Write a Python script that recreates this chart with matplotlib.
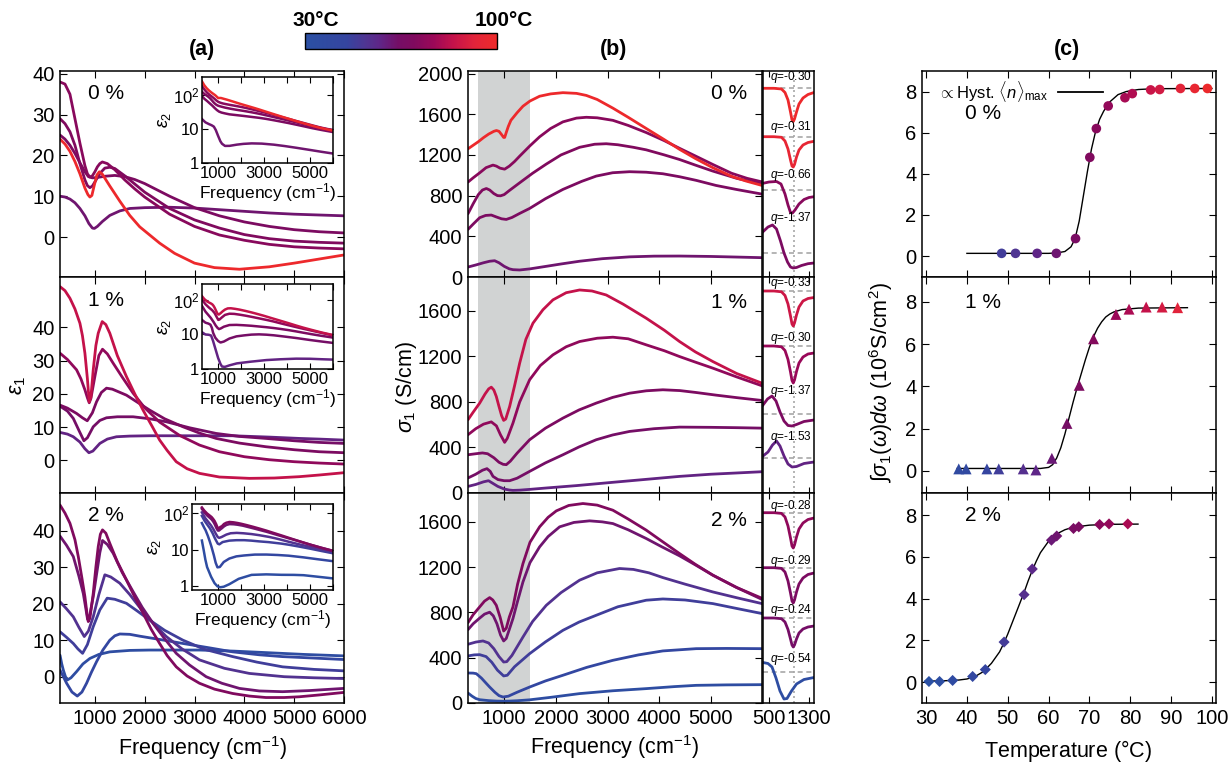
import matplotlib
matplotlib.use('Agg')
import matplotlib.pyplot as plt
import numpy as np
from matplotlib.colors import LinearSegmentedColormap, Normalize
from matplotlib.cm import ScalarMappable

plt.rcParams['font.family'] = ['Liberation Sans', 'DejaVu Sans']
plt.rcParams['mathtext.fontset'] = 'custom'
plt.rcParams['mathtext.rm'] = 'Liberation Sans'
plt.rcParams['mathtext.it'] = 'Liberation Sans:italic'
plt.rcParams['mathtext.bf'] = 'Liberation Sans:bold'

# ======================= DATA =======================
T_LOW, T_HIGH = 30, 100

# ---- panel (a): eps1 ----
eps1_0_temps = [99, 72, 70, 68, 62]
eps1_0_freq = [
    [300, 400, 500, 600, 700, 800, 860, 900, 940, 990, 1040, 1090, 1150, 1300, 1500, 1700, 1900, 2100, 2300, 2600, 3000, 3400, 3900, 4500, 5000, 5500, 6000],
    [300, 400, 500, 600, 700, 800, 850, 900, 950, 1000, 1050, 1100, 1150, 1250, 1400, 1600, 1800, 2000, 2500, 3000, 3500, 4000, 4500, 5000, 5500, 6000],
    [300, 400, 500, 600, 700, 800, 850, 900, 950, 1000, 1100, 1200, 1300, 1400, 1600, 1800, 2000, 2500, 3000, 3500, 4000, 4500, 5000, 5500, 6000],
    [300, 400, 500, 600, 700, 800, 870, 950, 1050, 1200, 1400, 1600, 1800, 2000, 2500, 3000, 3500, 4000, 4500, 5000, 5500, 6000],
    [300, 400, 500, 600, 700, 800, 880, 950, 990, 1050, 1150, 1300, 1500, 1700, 2000, 2500, 3000, 3500, 4000, 4500, 5000, 5500, 6000],
]
eps1_0_vals = [
    [24, 22.8, 21, 18.5, 15.5, 12, 10.4, 9.8, 10.2, 12.8, 15.2, 16, 15.4, 12.5, 8.8, 5.3, 2.5, 0.5, -1.5, -4, -6.4, -7.5, -7.9, -7.3, -6.4, -5.4, -4.4],
    [38, 37.5, 35, 29, 23, 17.5, 15.5, 14.7, 15, 16, 17.2, 18, 18.4, 18, 16.5, 14, 11.8, 9.8, 5.6, 2.6, 0.5, -0.8, -1.8, -2.4, -2.7, -2.9],
    [29, 27.8, 25.8, 22.5, 18, 14, 12.6, 12.1, 12.5, 13.5, 15.6, 16.9, 17.1, 16.8, 15, 13, 11, 7, 4.2, 2.2, 0.6, -0.4, -1, -1.3, -1.5],
    [25, 24, 22.5, 20.5, 18.2, 16, 14.8, 14.5, 14.6, 14.9, 15.1, 14.8, 14.1, 13.1, 10, 7.2, 5.2, 3.7, 2.6, 1.8, 1.3, 1.0],
    [10, 9.8, 9.3, 8.4, 7, 5.2, 3.3, 2.2, 2.1, 2.6, 3.8, 5.3, 6.4, 7, 7.2, 7.3, 7.1, 6.7, 6.3, 5.9, 5.6, 5.4, 5.2],
]

eps1_1_temps = [84, 74, 68, 64, 58]
eps1_1_freq = [
    [300, 400, 500, 600, 700, 750, 800, 850, 887, 920, 967, 1020, 1067, 1147, 1220, 1300, 1450, 1633, 1800, 1967, 2150, 2300, 2450, 2633, 2850, 3100, 3500, 4100, 4600, 5100, 5500, 6000],
    [300, 450, 633, 720, 800, 850, 887, 920, 1000, 1080, 1153, 1250, 1367, 1550, 1767, 2000, 2300, 2700, 3100, 3500, 4000, 4500, 5000, 5500, 6000],
    [300, 450, 633, 750, 847, 950, 1033, 1130, 1233, 1350, 1633, 1850, 2100, 2400, 2767, 3100, 3433, 3900, 4433, 5000, 5500, 6000],
    [300, 450, 567, 680, 780, 850, 967, 1100, 1233, 1450, 1767, 2100, 2433, 2900, 3433, 3900, 4433, 5000, 5500, 6000],
    [300, 450, 567, 700, 800, 880, 960, 1100, 1250, 1433, 1700, 2100, 3000, 3767, 4500, 5100, 5500, 6000],
]
eps1_1_vals = [
    [52.2, 51, 48.7, 45.5, 41.2, 37.5, 32.2, 24.5, 17.6, 19, 27.2, 34.5, 38.2, 41.7, 40.8, 38.2, 31.5, 25.2, 20, 15.1, 10.2, 6.1, 3, -0.4, -2.5, -3.9, -5, -5.4, -5.3, -4.9, -4.4, -3.7],
    [32.2, 30.3, 27.2, 24.5, 21.2, 18.8, 17.3, 18.6, 25.2, 31.5, 33.4, 32, 29.2, 25, 20.2, 15.8, 11.5, 7.5, 4.6, 2.6, 1.1, 0.2, -0.4, -0.8, -1.1],
    [16.6, 15.7, 14.1, 12.8, 11.9, 14.3, 17.6, 20.4, 21.7, 21.4, 19.6, 17.5, 15.1, 12.5, 10.1, 8.2, 6.6, 5.2, 4.1, 3.2, 2.6, 2.3],
    [16.3, 14.8, 12.6, 9, 5.9, 6.8, 10.1, 12, 12.8, 13.1, 13.1, 12.5, 11.6, 9.8, 8.1, 7.2, 6.6, 5.9, 5.4, 5.1],
    [8.4, 7.9, 7.1, 5.5, 3.5, 2.3, 2.8, 5.1, 6.4, 7.1, 7.3, 7.4, 7.4, 7.4, 7, 6.6, 6.4, 6.1],
]

eps1_2_temps = [70, 62, 53, 48, 42, 34]
eps1_2_freq = [
    [300, 400, 500, 600, 667, 740, 800, 840, 867, 900, 967, 1020, 1067, 1110, 1153, 1220, 1300, 1450, 1633, 1800, 1967, 2130, 2300, 2450, 2633, 2850, 3100, 3400, 3767, 4100, 4433, 4800, 5100, 5500, 6000],
    [300, 430, 567, 680, 767, 820, 853, 900, 967, 1050, 1100, 1153, 1250, 1367, 1550, 1767, 1950, 2167, 2400, 2633, 2900, 3233, 3550, 3900, 4300, 4767, 5300, 6000],
    [300, 430, 567, 680, 787, 870, 967, 1080, 1200, 1320, 1500, 1700, 1967, 2200, 2433, 2750, 3100, 3600, 4100, 4800, 5400, 6000],
    [300, 430, 567, 660, 753, 850, 967, 1100, 1247, 1400, 1633, 1850, 2100, 2400, 2767, 3200, 3767, 4250, 4767, 5400, 6000],
    [300, 360, 433, 540, 647, 740, 833, 930, 1033, 1160, 1300, 1400, 1500, 1700, 1900, 2300, 2767, 3300, 3767, 4300, 4767, 5400, 6000],
    [300, 335, 367, 410, 447, 520, 633, 760, 900, 1080, 1300, 1700, 2100, 3100, 3800, 4433, 5200, 6000],
]
eps1_2_vals = [
    [47, 44.8, 42, 37.5, 32.9, 27, 21.9, 17.5, 15.1, 16, 22.8, 30, 35.6, 39, 40.2, 39.3, 36.5, 31.5, 26.5, 21.8, 17.4, 13, 9.1, 5.8, 2.7, 0.2, -1.8, -3.4, -4.6, -5.3, -5.7, -5.7, -5.5, -5, -4.3],
    [38.5, 36, 32.9, 27.5, 22.8, 18.5, 15.7, 17, 21.9, 29.5, 34, 37.3, 36.2, 33.8, 28.5, 23.3, 19, 14.6, 10.4, 6.4, 3.2, 0, -1.8, -3.2, -3.9, -4.1, -3.8, -3.2],
    [20.5, 18.6, 16.4, 13.5, 11, 12.5, 16.4, 22.5, 27.9, 27.3, 25.6, 22.5, 17.8, 14.2, 11, 7.6, 4.6, 2.3, 0.9, 0, -0.3, -0.5],
    [12.3, 10.8, 9.1, 7.6, 6.4, 8.8, 13.7, 18.3, 21.5, 21.2, 20.1, 18, 15.5, 12.7, 10, 7.5, 5.5, 4, 2.7, 2, 1.6],
    [1.8, 0.2, -1.8, -4.2, -5.3, -4.2, -1.8, 1.2, 4.1, 7.3, 10, 11.2, 11.7, 11.6, 11.1, 10.2, 9.1, 7.9, 6.8, 6, 5.5, 5.1, 4.7],
    [5.9, 3.5, 1.8, 0, -0.9, -0.3, 1.4, 3.5, 5, 6.1, 6.8, 7.2, 7.3, 7.3, 7, 6.6, 6.1, 5.7],
]

# ---- panel (b): sigma1 (S/cm); same samples/temperatures as eps1 rows ----
sig_0_freq = [
    [300, 400, 500, 600, 700, 800, 850, 900, 950, 990, 1010, 1040, 1080, 1130, 1250, 1364, 1500, 1686, 1900, 2137, 2400, 2589, 2800, 3104, 3400, 3749, 4100, 4394, 4700, 5039, 5400, 5683, 5990],
    [300, 400, 526, 650, 783, 850, 920, 1009, 1100, 1200, 1300, 1500, 1686, 1900, 2137, 2400, 2589, 2800, 3104, 3400, 3749, 4100, 4394, 4700, 5039, 5400, 5700, 5990],
    [300, 400, 500, 580, 655, 720, 800, 870, 930, 1000, 1100, 1300, 1550, 1815, 2100, 2460, 2750, 2975, 3200, 3500, 3749, 4100, 4394, 4700, 5039, 5500, 5990],
    [300, 400, 526, 640, 751, 850, 950, 1041, 1150, 1300, 1493, 1800, 2137, 2500, 2782, 3100, 3427, 3750, 4071, 4400, 4716, 5100, 5500, 5990],
    [300, 450, 600, 720, 816, 900, 1000, 1100, 1170, 1300, 1500, 1815, 2100, 2460, 2900, 3427, 3900, 4394, 5000, 5500, 5990],
]
sig_0_vals = [
    [1260, 1295, 1330, 1370, 1405, 1432, 1440, 1432, 1400, 1372, 1372, 1420, 1480, 1540, 1615, 1679, 1730, 1777, 1800, 1812, 1805, 1785, 1745, 1660, 1570, 1460, 1350, 1255, 1165, 1074, 990, 943, 900],
    [933, 975, 1024, 1075, 1100, 1090, 1070, 1060, 1090, 1135, 1188, 1290, 1378, 1460, 1525, 1562, 1570, 1565, 1540, 1490, 1420, 1340, 1265, 1190, 1106, 1020, 970, 935],
    [622, 720, 810, 855, 870, 855, 820, 800, 798, 810, 850, 926, 1020, 1110, 1200, 1275, 1305, 1310, 1300, 1275, 1250, 1200, 1155, 1100, 1041, 970, 915],
    [468, 520, 583, 605, 609, 590, 572, 566, 585, 625, 674, 770, 861, 940, 992, 1025, 1035, 1030, 1015, 985, 950, 900, 860, 815],
    [98, 118, 140, 155, 160, 140, 105, 80, 72, 69, 80, 105, 128, 155, 180, 198, 205, 206, 202, 196, 190],
]

sig_1_freq = [
    [300, 400, 526, 630, 700, 751, 800, 848, 900, 950, 990, 1030, 1106, 1200, 1300, 1420, 1557, 1750, 1944, 2200, 2460, 2700, 2975, 3300, 3749, 4100, 4394, 4700, 5039, 5500, 5990],
    [300, 450, 600, 751, 850, 930, 1009, 1060, 1170, 1300, 1493, 1700, 1944, 2200, 2460, 2800, 3104, 3400, 3749, 4100, 4394, 4700, 5039, 5500, 5990],
    [300, 450, 580, 680, 800, 900, 980, 1041, 1120, 1250, 1493, 1800, 2137, 2450, 2782, 3100, 3427, 3750, 4071, 4400, 4716, 5100, 5500, 5990],
    [300, 450, 580, 667, 730, 784, 880, 1000, 1106, 1250, 1493, 1800, 2137, 2450, 2782, 3100, 3427, 3900, 4394, 5000, 5500, 5990],
    [300, 450, 600, 697, 780, 877, 1000, 1100, 1170, 1300, 1500, 1815, 2400, 3104, 3700, 4394, 5000, 5500, 5990],
]
sig_1_vals = [
    [644, 710, 790, 870, 915, 930, 905, 848, 760, 680, 638, 650, 760, 940, 1141, 1350, 1492, 1610, 1697, 1760, 1784, 1775, 1740, 1660, 1536, 1430, 1331, 1240, 1155, 1050, 965],
    [512, 565, 605, 625, 590, 510, 445, 480, 614, 800, 995, 1120, 1214, 1285, 1331, 1360, 1369, 1355, 1302, 1250, 1199, 1150, 1097, 1020, 942],
    [336, 345, 352, 345, 310, 270, 252, 249, 280, 350, 468, 570, 658, 730, 790, 840, 877, 898, 907, 900, 883, 860, 838, 813],
    [132, 165, 200, 214, 190, 146, 118, 108, 108, 130, 190, 265, 336, 405, 468, 510, 541, 565, 579, 577, 574, 570],
    [58, 75, 98, 108, 85, 58, 35, 26, 23, 25, 32, 44, 65, 94, 118, 146, 165, 176, 187],
]

sig_2_freq = [
    [300, 400, 526, 620, 719, 780, 848, 920, 990, 1040, 1100, 1170, 1260, 1364, 1500, 1686, 1850, 2009, 2250, 2524, 2800, 3104, 3400, 3749, 4050, 4394, 4700, 5039, 5500, 5990],
    [300, 400, 526, 620, 719, 790, 860, 930, 990, 1040, 1100, 1170, 1260, 1364, 1500, 1686, 1850, 2073, 2350, 2653, 2900, 3104, 3400, 3749, 4050, 4394, 4700, 5039, 5500, 5990],
    [300, 450, 590, 700, 800, 900, 990, 1050, 1150, 1364, 1550, 1815, 2100, 2460, 2800, 3233, 3500, 3800, 4071, 4500, 5039, 5500, 5990],
    [300, 420, 526, 650, 760, 870, 990, 1060, 1200, 1493, 1800, 2137, 2450, 2782, 3200, 3749, 4071, 4500, 5039, 5500, 5990],
    [300, 400, 461, 560, 640, 719, 820, 900, 977, 1080, 1250, 1493, 1800, 2137, 2600, 3104, 3600, 4071, 4716, 5300, 5990],
    [300, 380, 450, 526, 700, 850, 977, 1100, 1250, 1493, 1900, 2460, 3100, 3749, 4300, 4716, 5300, 5990],
]
sig_2_vals = [
    [710, 780, 849, 900, 931, 910, 863, 760, 636, 660, 760, 849, 1050, 1232, 1420, 1556, 1640, 1697, 1745, 1762, 1748, 1703, 1625, 1527, 1430, 1320, 1225, 1129, 1020, 925],
    [648, 700, 750, 785, 802, 770, 700, 600, 548, 570, 650, 746, 900, 1070, 1240, 1379, 1470, 1556, 1595, 1609, 1600, 1585, 1530, 1453, 1380, 1300, 1220, 1129, 1020, 915],
    [519, 538, 548, 530, 480, 410, 362, 365, 420, 583, 720, 863, 975, 1085, 1150, 1188, 1180, 1150, 1108, 1050, 981, 930, 878],
    [416, 425, 427, 410, 360, 290, 239, 245, 320, 436, 540, 642, 715, 775, 850, 908, 919, 910, 878, 835, 790],
    [265, 264, 259, 220, 180, 141, 95, 65, 53, 60, 95, 141, 195, 245, 315, 377, 425, 460, 480, 482, 480],
    [88, 60, 40, 29, 21, 17, 16, 17, 20, 28, 50, 83, 108, 127, 145, 156, 160, 162],
]

# ---- panel (b) small side insets: normalised Fano dips (arbitrary offset units) ----
fano_dip_freq = [380, 600, 750, 820, 880, 930, 960, 985, 1010, 1050, 1100, 1180, 1280, 1400]
fano_0_temps = [99, 95, 72, 68]
fano_0_q = ['-0.30', '-0.31', '-0.66', '-1.37']
fano_0_freq = [fano_dip_freq, fano_dip_freq,
               [380, 500, 650, 740, 820, 880, 930, 970, 1020, 1100, 1200, 1300, 1400],
               [380, 480, 570, 650, 730, 800, 870, 930, 980, 1050, 1150, 1280, 1400]]
fano_0_vals = [
    [88.3, 88.3, 89, 92.5, 100, 112, 120, 121.5, 119, 112, 104, 98, 94.5, 92.5],
    [136.7, 136.7, 137.3, 141, 149, 160, 166, 167, 164.5, 157, 150, 145, 142.5, 141.3],
    [183.3, 182, 181.5, 184, 194, 205, 212.5, 213, 210, 204, 199.5, 197.5, 196.7],
    [231.7, 227, 225, 229, 241, 253, 262, 267, 268, 267.5, 265.5, 263.7, 263],
]
fano_0_base = [88.3, 136.7, 190, 253]
fano_0_labely = [77.3, 126.7, 175, 218]

fano_1_temps = [86, 76, 68, 58]
fano_1_q = ['-0.33', '-0.30', '-1.37', '-1.53']
fano_1_freq = [fano_dip_freq, fano_dip_freq,
               [380, 470, 560, 640, 720, 800, 880, 960, 1050, 1200, 1400],
               [380, 480, 570, 650, 720, 800, 880, 960, 1050, 1200, 1400]]
fano_1_vals = [
    [291, 291, 291.8, 295.5, 304, 316, 324, 326, 323, 315, 307, 301, 298.5, 297.5],
    [346, 346, 346.8, 350.5, 359.5, 372, 380.5, 383, 380, 371.5, 363, 357, 354, 353],
    [405, 399, 396, 401, 412, 421, 425.5, 426, 424.5, 421.5, 420],
    [456, 452, 445, 441, 446, 456, 464, 467, 466.5, 463.5, 462],
]
fano_1_base = [291, 346, 414, 458]
fano_1_labely = [283, 338, 391, 437]

fano_2_temps = [74, 68, 64, 34]
fano_2_q = ['-0.28', '-0.29', '-0.24', '-0.54']
fano_2_freq = [fano_dip_freq, fano_dip_freq, fano_dip_freq,
               [380, 480, 560, 640, 720, 800, 860, 950, 1050, 1200, 1400]]
fano_2_vals = [
    [512.7, 512.7, 513.4, 517, 526, 538, 546, 548, 545, 537, 529, 523, 519.5, 518],
    [567.7, 567.7, 568.4, 572, 581, 593, 601, 603, 600, 592, 584, 578, 574.5, 573],
    [618, 618, 618.7, 622, 629.5, 639, 645, 647, 645, 639, 633, 629, 627, 626],
    [662.5, 663.5, 667, 678, 691, 699, 698.5, 691, 684, 679.5, 677.5],
]
fano_2_base = [512.7, 567.7, 618, 671.7]
fano_2_labely = [506, 561, 610, 659]

# ---- panel (c): integrated spectral weight (10^6 S/cm^2) ----
sw_0_T = [48.5, 51.9, 57.2, 61.9, 66.6, 70.1, 71.7, 74.6, 78.7, 80.5, 85.0, 87.2, 92.3, 95.8, 98.9]
sw_0_W = [0.13, 0.13, 0.13, 0.13, 0.85, 4.8, 6.2, 7.3, 7.7, 7.9, 8.08, 8.1, 8.15, 8.15, 8.15]
fit_0_T = [40, 60, 62, 64, 65.5, 66.5, 67.5, 68.5, 69.5, 70.5, 71.5, 72.5, 73.5, 75, 77, 79, 82, 86, 100]
fit_0_W = [0.13, 0.13, 0.15, 0.22, 0.45, 0.85, 1.7, 2.9, 4.1, 5.2, 6.05, 6.65, 7.05, 7.5, 7.85, 8.0, 8.1, 8.14, 8.15]

sw_1_T = [38.0, 39.8, 44.9, 47.8, 53.8, 56.9, 60.8, 64.5, 67.5, 71.0, 76.5, 79.7, 83.9, 87.8, 91.6]
sw_1_W = [0.1, 0.1, 0.1, 0.1, 0.1, 0.05, 0.6, 2.25, 4.05, 6.25, 7.4, 7.65, 7.75, 7.75, 7.72]
fit_1_T = [37.6, 58, 60, 61, 62, 63, 64, 65, 66, 67, 68, 69, 70, 71, 72, 73, 74, 75, 76, 78, 82, 94]
fit_1_W = [0.12, 0.12, 0.17, 0.3, 0.62, 1.1, 1.75, 2.5, 3.25, 3.95, 4.6, 5.25, 5.85, 6.35, 6.75, 7.05, 7.28, 7.42, 7.52, 7.63, 7.7, 7.72]

sw_2_T = [30.7, 33.3, 36.5, 41.4, 44.5, 49.1, 54.0, 56.0, 60.7, 62.0, 66.1, 67.4, 72.5, 74.8, 79.4]
sw_2_W = [0.03, 0.03, 0.08, 0.27, 0.6, 1.92, 4.19, 5.42, 6.8, 7.0, 7.36, 7.44, 7.55, 7.58, 7.58]
fit_2_T = [29.8, 34, 38, 40, 42, 44, 46, 48, 49, 50, 51, 52, 53, 54, 55, 56, 57, 58, 60, 62, 64, 66, 70, 75, 81.9]
fit_2_W = [0.05, 0.06, 0.1, 0.15, 0.27, 0.5, 0.9, 1.45, 1.85, 2.3, 2.8, 3.3, 3.8, 4.3, 4.85, 5.35, 5.8, 6.2, 6.75, 7.1, 7.3, 7.42, 7.52, 7.56, 7.57]

doping_labels = ['0 %', '1 %', '2 %']

# ======================= STYLE / LAYOUT =======================
cmap = LinearSegmentedColormap.from_list('temp', [
    (0.0, '#2b50a3'), (0.214, '#3545a0'), (0.314, '#4f3592'), (0.386, '#5f2688'),
    (0.486, '#750e66'), (0.571, '#800a5e'), (0.671, '#9c0858'), (0.771, '#c4124a'),
    (0.886, '#e2243a'), (1.0, '#ee2a2a')])
norm = Normalize(T_LOW, T_HIGH)

W, H = 1231, 767
fig = plt.figure(figsize=(W / 100, H / 100), dpi=100)

FS_TICK = 14.5
FS_LAB = 15.5
FS_PCT = 15


def ax_px(x0, y0, x1, y1):
    return fig.add_axes([x0 / W, 1 - y1 / H, (x1 - x0) / W, (y1 - y0) / H])


def style(ax, fs=FS_TICK, length=5):
    ax.tick_params(direction='in', top=True, right=True, length=length, width=0.8,
                   labelsize=fs, pad=4)
    ax.minorticks_off()
    for s in ax.spines.values():
        s.set_linewidth(1.1)


rows = [(71, 277), (277, 493), (493, 703)]
LW = 2.0

eps_sets = [(eps1_0_temps, eps1_0_freq, eps1_0_vals),
            (eps1_1_temps, eps1_1_freq, eps1_1_vals),
            (eps1_2_temps, eps1_2_freq, eps1_2_vals)]
sig_sets = [(sig_0_freq, sig_0_vals), (sig_1_freq, sig_1_vals), (sig_2_freq, sig_2_vals)]

# ---------- panel (a) ----------
a_ylims = [(-9.8, 40.7), (-9.8, 55.1), (-7.2, 50.3)]
ins_px = [(202, 77, 333, 163), (202, 284, 333, 369), (192, 504, 333, 590)]
ins_ylims = [(1, 340), (1, 290), (0.78, 176)]
ins_xlims = [(300, 6000), (300, 6000), (-130, 6000)]
for i, (y0, y1) in enumerate(rows):
    ax = ax_px(60, y0, 344, y1)
    temps, freqs, vals = eps_sets[i]
    order = np.argsort(temps)
    for k in order:
        ax.plot(freqs[k], vals[k], color=cmap(norm(temps[k])), lw=LW, solid_capstyle='round')
    ax.set_xlim(300, 6000)
    ax.set_ylim(*a_ylims[i])
    ax.set_xticks(range(1000, 6001, 1000))
    ax.set_yticks([0, 10, 20, 30, 40])
    style(ax)
    if i < 2:
        ax.set_xticklabels([])
    ax.text(0.162, 0.89 if i != 2 else 0.895, doping_labels[i], transform=ax.transAxes,
            fontsize=FS_PCT, ha='center', va='center')
    # eps2 inset from sigma1: eps2 = 59.96 * sigma[S/cm] / nu[cm^-1]
    ia = ax_px(*ins_px[i])
    sf, sv = sig_sets[i]
    for k in order:
        e2 = 59.96 * np.array(sv[k]) / np.array(sf[k])
        ia.plot(sf[k], e2, color=cmap(norm(temps[k])), lw=1.8)
    ia.set_yscale('log')
    ia.set_ylim(*ins_ylims[i])
    ia.set_xlim(*ins_xlims[i])
    ia.set_xticks(range(1000, 6001, 1000))
    ia.set_xticklabels(['1000', '', '3000', '', '5000', ''])
    ia.set_yticks([1, 10, 100])
    ia.set_yticklabels(['1', '10', r'$10^2$'])
    style(ia, fs=12, length=4)
    ia.tick_params(pad=2)
    ia.set_xlabel(r'Frequency (cm$^{-1}$)', fontsize=12.5, labelpad=0)
    ia.set_ylabel(r'$\epsilon_2$', fontsize=13, labelpad=0)

fig.text(18 / W, 1 - 385 / H, r'$\epsilon_1$', fontsize=FS_LAB, rotation=90, ha='center', va='center')
fig.text(203 / W, 1 - 748 / H, r'Frequency (cm$^{-1}$)', fontsize=FS_LAB, ha='center', va='center')
fig.text(202 / W, 1 - 49 / H, '(a)', fontsize=15.5, fontweight='bold', ha='center', va='center')

# ---------- panel (b) ----------
b_ylims = [(0, 2025), (0, 1898), (0, 1855)]
b_yticks = [[0, 400, 800, 1200, 1600, 2000], [0, 400, 800, 1200, 1600], [0, 400, 800, 1200, 1600]]
b_lab_y = [0.89, 0.884, 0.867]
fano_sets = [(fano_0_temps, fano_0_q, fano_0_freq, fano_0_vals, fano_0_base, fano_0_labely),
             (fano_1_temps, fano_1_q, fano_1_freq, fano_1_vals, fano_1_base, fano_1_labely),
             (fano_2_temps, fano_2_q, fano_2_freq, fano_2_vals, fano_2_base, fano_2_labely)]
for i, (y0, y1) in enumerate(rows):
    ax = ax_px(468, y0, 762, y1)
    ax.axvspan(500, 1500, color='#d1d3d3', lw=0, zorder=0)
    temps = eps_sets[i][0]
    sf, sv = sig_sets[i]
    for k in np.argsort(temps):
        ax.plot(sf[k], sv[k], color=cmap(norm(temps[k])), lw=LW, solid_capstyle='round')
    ax.set_xlim(300, 5990)
    ax.set_ylim(*b_ylims[i])
    ax.set_xticks(range(1000, 5001, 1000))
    ax.set_yticks(b_yticks[i])
    style(ax)
    if i < 2:
        ax.set_xticklabels([])
    ax.text(0.888, b_lab_y[i], doping_labels[i], transform=ax.transAxes,
            fontsize=FS_PCT, ha='center', va='center')

    # side inset with Fano fits
    sa = ax_px(763, y0, 814, y1)
    ft, fq, ff, fv, fb, fl = fano_sets[i]
    sa.axvline(1000, color='#a8a8a8', lw=1.2, ls=(0, (1.2, 1.8)), zorder=1)
    for k in range(len(ft)):
        sa.axhline(fb[k], color='#a8a8a8', lw=1.2, ls=(0, (3, 2.2)), zorder=1)
        sa.plot(ff[k], fv[k], color=cmap(norm(ft[k])), lw=2.0, zorder=2)
        sa.text(520, fl[k], r'$q$=' + fq[k], fontsize=8.5, ha='left', va='center', zorder=3)
    sa.set_xlim(380, 1400)
    sa.set_ylim(y1, y0)
    sa.set_xticks([500, 1300])
    sa.set_yticks([])
    style(sa, length=4)
    if i < 2:
        sa.set_xticklabels([])

fig.text(407 / W, 1 - 387 / H, r'$\sigma_1$ (S/cm)', fontsize=FS_LAB, rotation=90, ha='center', va='center')
fig.text(615 / W, 1 - 747 / H, r'Frequency (cm$^{-1}$)', fontsize=FS_LAB, ha='center', va='center')
fig.text(614 / W, 1 - 49 / H, '(b)', fontsize=15.5, fontweight='bold', ha='center', va='center')

# ---------- panel (c) ----------
c_ylims = [(-1.02, 9.0), (-1.04, 9.17), (-1.0, 9.06)]
c_sets = [(sw_0_T, sw_0_W, fit_0_T, fit_0_W, 'o', 48),
          (sw_1_T, sw_1_W, fit_1_T, fit_1_W, '^', 62),
          (sw_2_T, sw_2_W, fit_2_T, fit_2_W, 'D', 32)]
c_lab_y = [0.796, 0.884, 0.895]
for i, (y0, y1) in enumerate(rows):
    ax = ax_px(922, y0, 1216, y1)
    T, Wv, fT, fW, mk, ms = c_sets[i]
    ax.plot(fT, fW, color='black', lw=1.0, zorder=2)
    ax.scatter(T, Wv, c=[cmap(norm(t)) for t in T], marker=mk, s=ms, lw=0, zorder=3)
    ax.set_xlim(29, 101)
    ax.set_ylim(*c_ylims[i])
    ax.set_xticks(range(30, 101, 10))
    ax.set_yticks([0, 2, 4, 6, 8])
    style(ax)
    if i < 2:
        ax.set_xticklabels([])
    ax.text(0.207, c_lab_y[i], doping_labels[i], transform=ax.transAxes,
            fontsize=FS_PCT, ha='center', va='center')
    if i == 0:
        ax.text(0.43, 0.9, r'$\propto$Hyst. $\langle n\rangle_{\rm max}$', transform=ax.transAxes,
                fontsize=12, ha='right', va='center')
        ax.plot([0.463, 0.616], [0.9, 0.9], color='black', lw=1.3, transform=ax.transAxes)

fig.text(881 / W, 1 - 383 / H, r'$\int\sigma_1(\omega)d\omega$ (10$^6$S/cm$^2$)', fontsize=FS_LAB,
         rotation=90, ha='center', va='center')
fig.text(1068 / W, 1 - 751 / H, r'Temperature ($\degree$C)', fontsize=FS_LAB, ha='center', va='center')
fig.text(1067 / W, 1 - 49 / H, '(c)', fontsize=15.5, fontweight='bold', ha='center', va='center')

# ---------- colorbar ----------
cax = ax_px(305, 33, 497, 49)
cb = fig.colorbar(ScalarMappable(norm=norm, cmap=cmap), cax=cax, orientation='horizontal')
cb.set_ticks([])
cb.outline.set_linewidth(1.0)
fig.text(316 / W, 1 - 20 / H, '30°C', fontsize=15, fontweight='bold', ha='center', va='center')
fig.text(504 / W, 1 - 20 / H, '100°C', fontsize=15, fontweight='bold', ha='center', va='center')

fig.savefig('out.png', dpi=100)
